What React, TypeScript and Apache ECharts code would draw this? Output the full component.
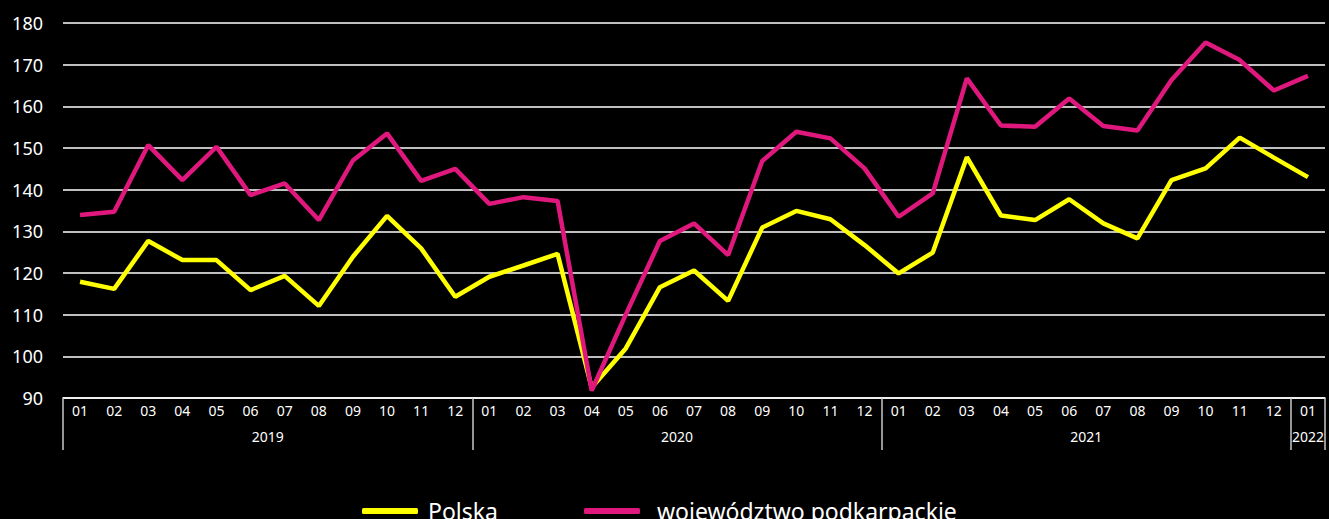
import React, { useEffect, useRef } from "react";
import * as echarts from "echarts";

const months: string[] = [
  "01","02","03","04","05","06","07","08","09","10","11","12",
  "01","02","03","04","05","06","07","08","09","10","11","12",
  "01","02","03","04","05","06","07","08","09","10","11","12",
  "01",
];
const years: string[] = ["2019", "2020", "2021", "2022"];
const monthsPerYear: number[] = [12, 12, 12, 1];

const polska: number[] = [
  117.9, 116.2, 127.7, 123.1, 123.1, 115.9, 119.3, 112.1, 123.9, 133.7, 125.9, 114.3,
  119.1, 121.8, 124.6, 92.5, 101.9, 116.6, 120.6, 113.3, 130.9, 134.9, 132.9, 126.7,
  119.9, 124.9, 147.8, 133.8, 132.7, 137.7, 131.9, 128.3, 142.3, 145.1, 152.5, 147.7,
  143.0,
];
const podkarpackie: number[] = [
  133.9, 134.7, 150.7, 142.3, 150.3, 138.7, 141.5, 132.7, 147.0, 153.5, 142.1, 145.0,
  136.6, 138.2, 137.3, 91.8, 110.0, 127.7, 131.9, 124.3, 146.9, 153.9, 152.3, 145.1,
  133.5, 139.1, 166.7, 155.4, 155.1, 161.9, 155.3, 154.2, 166.3, 175.3, 171.1, 163.8,
  167.3,
];
const seriesNames: string[] = ["Polska", "województwo podkarpackie"];
const seriesColors: string[] = ["#ffff00", "#e0187e"];

const FONT = "'Noto Sans', sans-serif";

export default function App() {
  const ref = useRef<HTMLDivElement>(null);

  useEffect(() => {
    document.body.style.margin = "0";
    document.body.style.background = "#000";
    if (!ref.current) return;
    const chart = echarts.init(ref.current, undefined, { renderer: "svg" });

    // Year axis built on half-month points (boundaryGap false)
    const halfCount = months.length * 2 + 1;
    const yearData: string[] = new Array(halfCount).fill("");
    const boundaries: number[] = [0];
    let acc = 0;
    years.forEach((y, i) => {
      const start = acc;
      acc += monthsPerYear[i];
      boundaries.push(acc * 2);
      yearData[start + acc] = y;
    });

    chart.setOption({
      animation: false,
      backgroundColor: "#000",
      grid: { left: 63, right: 4, top: 23, bottom: 121, containLabel: false },
      legend: [
        {
          left: 362,
          top: 499,
          padding: 0,
          data: [{ name: seriesNames[0], icon: "roundRect" }],
          itemWidth: 56,
          itemHeight: 6,
          textStyle: {
            color: "#fff",
            fontSize: 23,
            fontFamily: FONT,
            lineHeight: 24,
            padding: [0, 0, 0, 5],
          },
        },
        {
          left: 584,
          top: 499,
          padding: 0,
          data: [{ name: seriesNames[1], icon: "roundRect" }],
          itemWidth: 56,
          itemHeight: 6,
          textStyle: {
            color: "#fff",
            fontSize: 23,
            fontFamily: FONT,
            lineHeight: 24,
            padding: [0, 0, 0, 12],
          },
        },
      ],
      xAxis: [
        {
          type: "category",
          data: months,
          boundaryGap: true,
          position: "bottom",
          axisLine: { show: true, lineStyle: { color: "#fff", width: 1.5 } },
          axisTick: { show: false },
          axisLabel: {
            color: "#fff",
            fontSize: 14,
            fontFamily: FONT,
            margin: 5,
            interval: 0,
          },
          splitLine: { show: false },
        },
        {
          type: "category",
          data: yearData,
          boundaryGap: false,
          position: "bottom",
          offset: 0,
          axisLine: { show: false },
          axisTick: {
            show: true,
            length: 52,
            interval: (i: number) => boundaries.indexOf(i) >= 0,
            lineStyle: { color: "#c8c8c8", width: 1.5 },
          },
          axisLabel: {
            color: "#fff",
            fontSize: 14,
            fontFamily: FONT,
            margin: 31,
            interval: 0,
          },
          splitLine: { show: false },
        },
      ],
      yAxis: {
        type: "value",
        min: 90,
        max: 180,
        interval: 10,
        axisLine: { show: false },
        axisTick: { show: false },
        axisLabel: { color: "#fff", fontSize: 18, fontFamily: FONT, margin: 20 },
        splitLine: { show: true, lineStyle: { color: "#fff", width: 1.5 } },
      },
      series: [
        {
          name: seriesNames[0],
          type: "line",
          data: polska,
          xAxisIndex: 0,
          symbol: "none",
          lineStyle: { color: seriesColors[0], width: 4.5 },
          itemStyle: { color: seriesColors[0] },
        },
        {
          name: seriesNames[1],
          type: "line",
          data: podkarpackie,
          xAxisIndex: 0,
          symbol: "none",
          lineStyle: { color: seriesColors[1], width: 4.5 },
          itemStyle: { color: seriesColors[1] },
        },
      ],
    });

    return () => chart.dispose();
  }, []);

  return <div ref={ref} style={{ width: 1329, height: 519, background: "#000" }} />;
}
